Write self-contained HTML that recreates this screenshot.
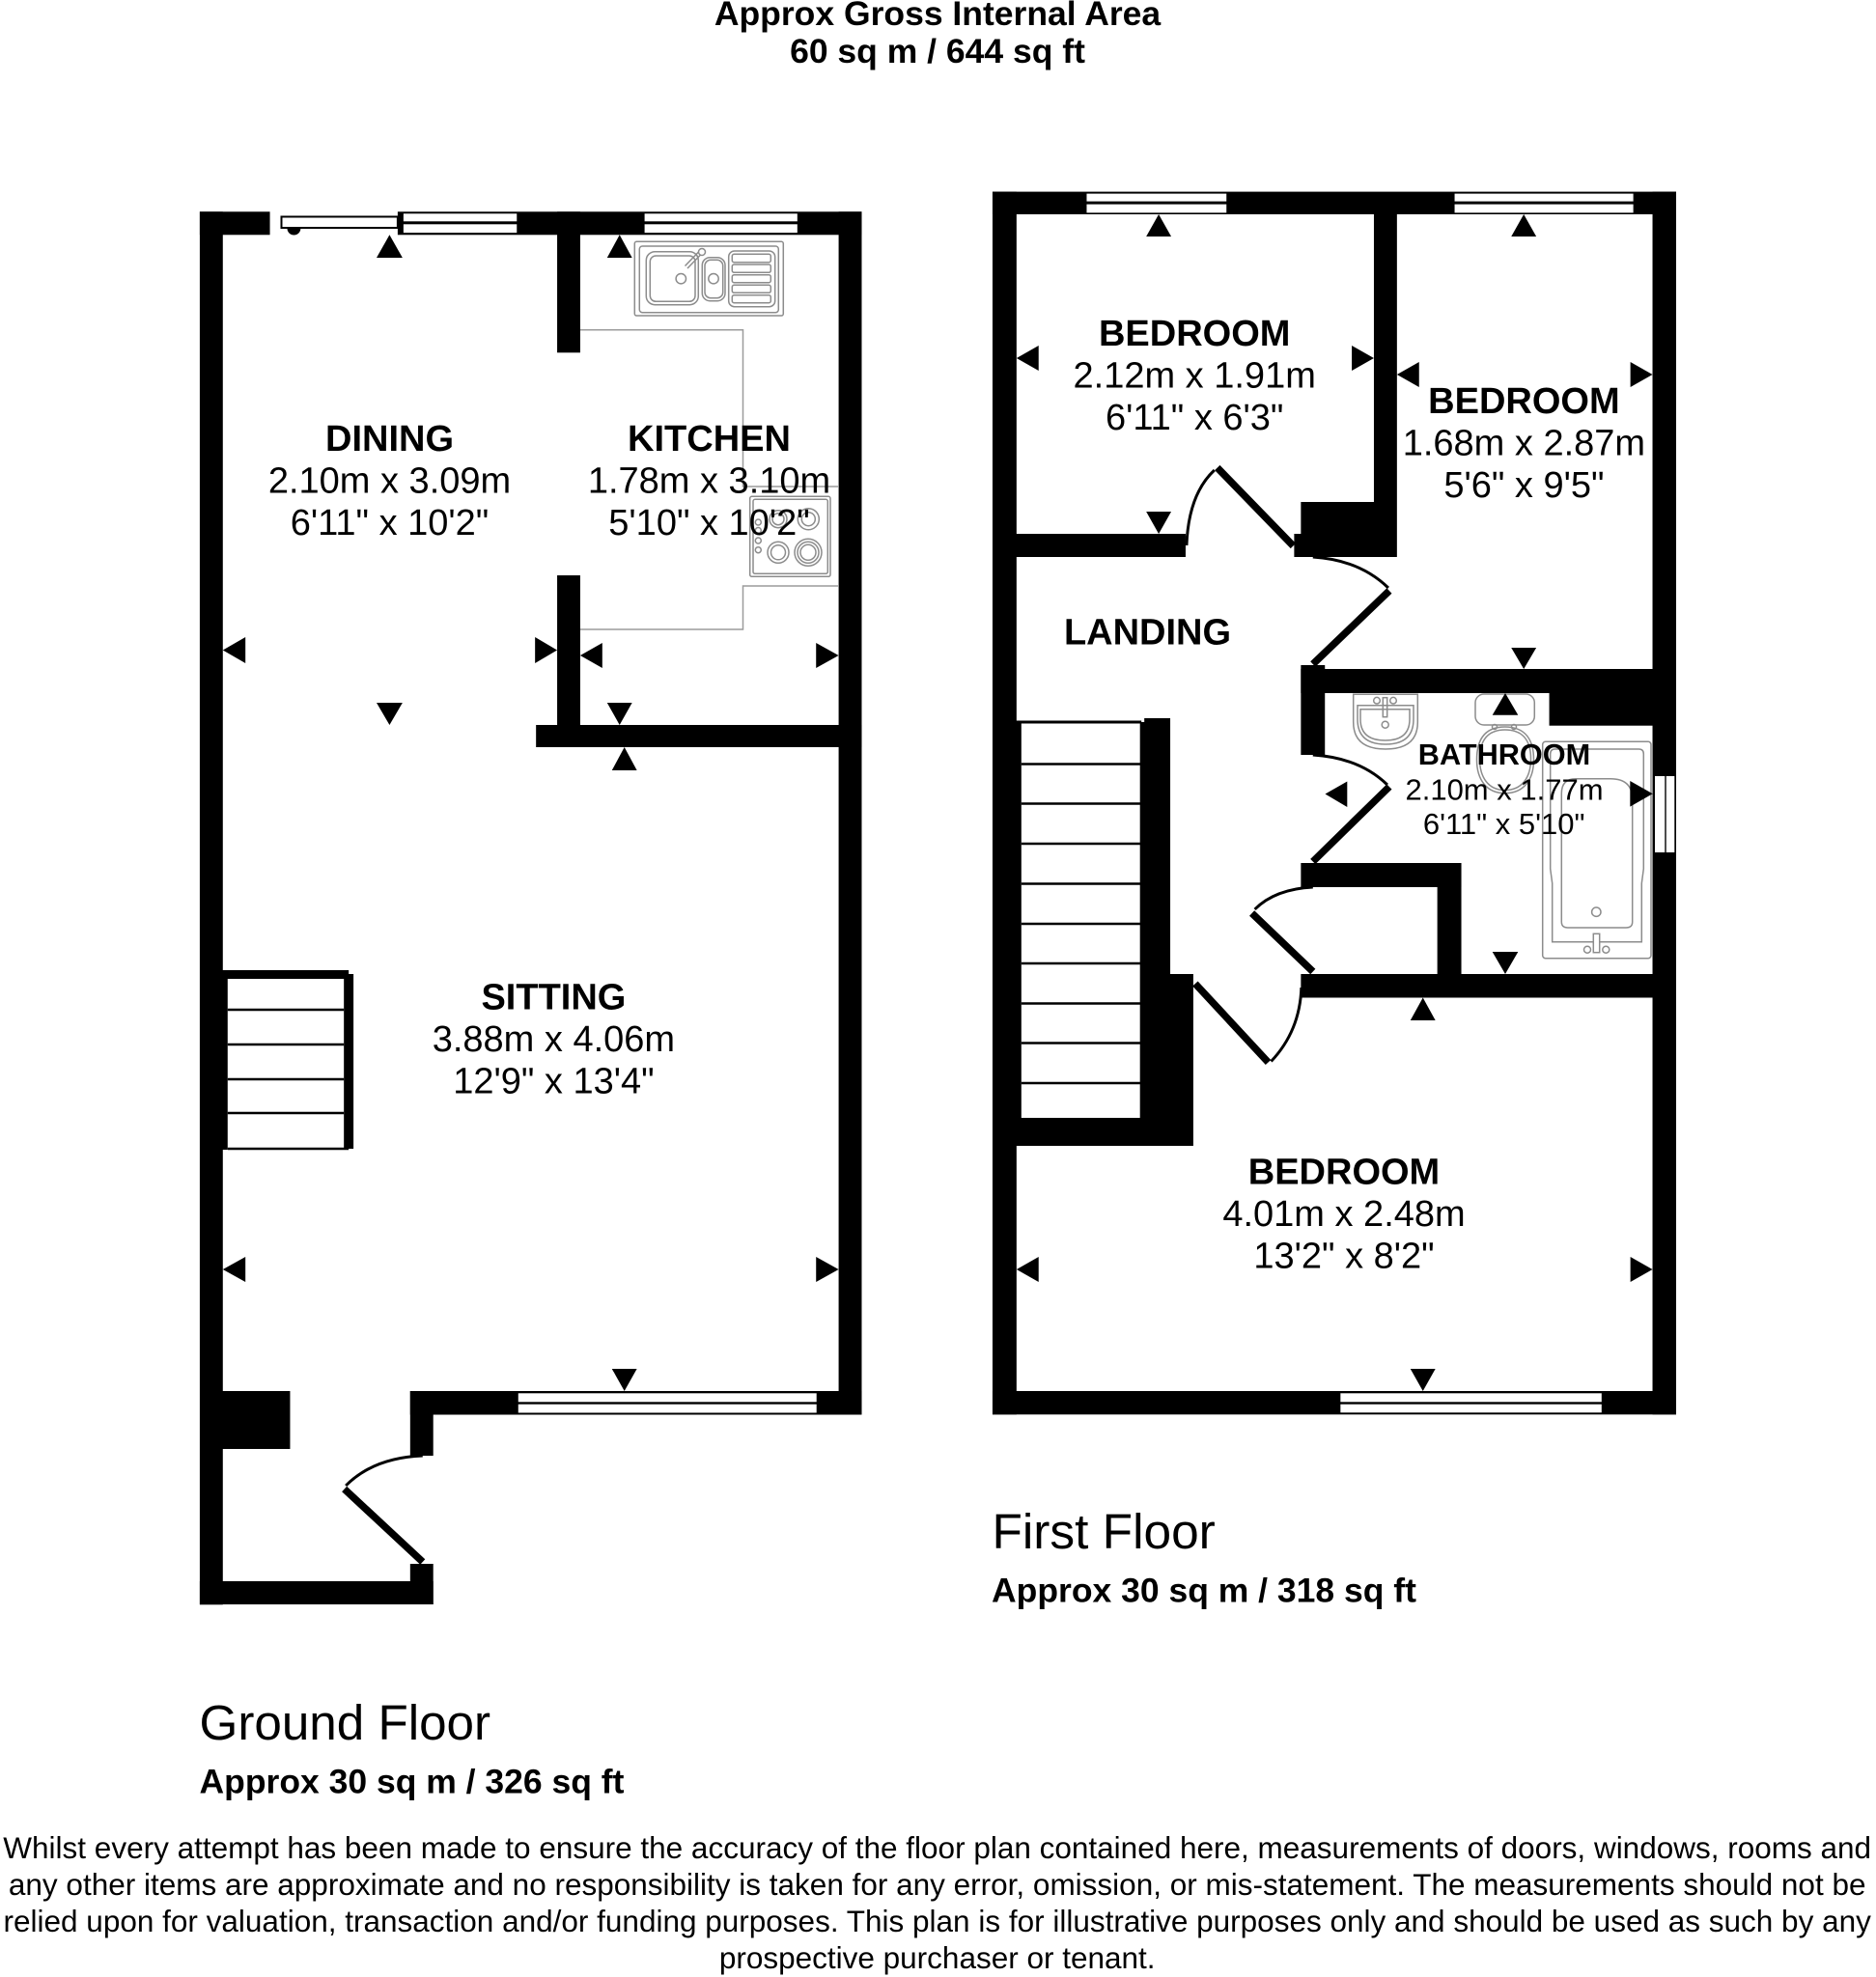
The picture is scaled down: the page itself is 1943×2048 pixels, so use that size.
<!DOCTYPE html>
<html><head><meta charset="utf-8"><style>
html,body{margin:0;padding:0;background:#fff}
svg{display:block}
text{font-family:"Liberation Sans",sans-serif;fill:#000}
.b{font-weight:bold;font-size:38px;text-anchor:middle}
.r{font-size:38px;text-anchor:middle}
.bs{font-weight:bold;font-size:30.7px;text-anchor:middle}
.rs{font-size:31px;text-anchor:middle}
.d{font-size:31.5px;text-anchor:middle}
.h{font-weight:bold;font-size:35.5px}
.g{fill:none;stroke:#8c8c8c;stroke-width:1.5}
.l{fill:none;stroke:#9c9c9c;stroke-width:1.5}
.dr{stroke:#000;stroke-width:7.5;fill:none}
.ar{stroke:#000;stroke-width:3;fill:none}
.s{stroke:#000;stroke-width:2.4}
</style></head><body>
<svg width="1943" height="2048" viewBox="0 0 1943 2048" xmlns="http://www.w3.org/2000/svg">
<rect width="1943" height="2048" fill="#fff"/>

<!-- GROUND FLOOR -->
<g transform="translate(190 0) scale(.995 1) translate(-190 0)">
<g fill="#000">
<rect x="207" y="219.3" width="73" height="24"/>
<rect x="207" y="219.3" width="24" height="1443"/>
<rect x="413" y="219.3" width="483" height="24"/>
<rect x="872" y="219.3" width="24" height="1246"/>
<rect x="579" y="219.3" width="24" height="146"/>
<rect x="579" y="596" width="24" height="165"/>
<rect x="557" y="751" width="339" height="23"/>
<rect x="426" y="1441" width="470" height="24.5"/>
<rect x="220" y="1441" width="81" height="60"/>
<rect x="426" y="1441" width="24" height="67"/>
<rect x="426" y="1620" width="24" height="42"/>
<rect x="207" y="1638" width="243" height="24"/>
<rect x="220" y="1005" width="142" height="9"/>
<rect x="220" y="1005" width="16" height="186"/>
<rect x="357" y="1009" width="10" height="181"/>
</g>
<g class="s">
<line x1="236" y1="1046" x2="357" y2="1046"/>
<line x1="236" y1="1082" x2="357" y2="1082"/>
<line x1="236" y1="1118" x2="357" y2="1118"/>
<line x1="236" y1="1153" x2="357" y2="1153"/>
<line x1="236" y1="1190" x2="362" y2="1190"/>
</g>
<g fill="#fff">
<rect x="419" y="221.3" width="118" height="8"/><rect x="419" y="232.3" width="118" height="8.8"/>
<rect x="670" y="221.3" width="159" height="8"/><rect x="670" y="232.3" width="159" height="8.8"/>
<rect x="538.5" y="1443.3" width="310.5" height="9"/><rect x="538.5" y="1454.7" width="310.5" height="8.8"/>
</g>
<rect x="292" y="224.5" width="121" height="11.5" fill="#fff" stroke="#000" stroke-width="2"/>
<path d="M298 236.5a7 7 0 0 0 14 0z" fill="#000"/>
<line x1="439" y1="1618" x2="357.5" y2="1542.5" class="dr"/>
<path d="M359 1539Q388 1510 439 1508" class="ar"/>
<g fill="#000">
<polygon points="404.5,243.3 391,267 418,267"/>
<polygon points="644,243.3 631,267 657,267"/>
<polygon points="231,673.5 254.5,660 254.5,687"/>
<polygon points="579,673.5 556,660 556,687"/>
<polygon points="603,679 626,666 626,692"/>
<polygon points="872,679 848.5,666 848.5,692"/>
<polygon points="404.5,751 391,728 418,728"/>
<polygon points="644,751 631,728 657,728"/>
<polygon points="649,774 636,798 662,798"/>
<polygon points="231,1315 254.5,1302 254.5,1328"/>
<polygon points="872,1315 848.5,1302 848.5,1328"/>
<polygon points="649,1441 636,1418 662,1418"/>
</g>
</g>

<!-- kitchen worktop -->
<path class="l" d="M601 341.7H769.5V504H868M868 607H769.5V652H601"/>
<!-- sink -->
<g class="g">
<rect x="657.3" y="250.3" width="154" height="76.7" rx="2"/>
<rect x="662.3" y="255" width="144" height="68.7" rx="3"/>
<rect x="669.3" y="260.7" width="54" height="55" rx="9"/>
<rect x="673.3" y="265" width="46.7" height="47.3" rx="6"/>
<rect x="727.3" y="266.7" width="23.7" height="45" rx="8"/>
<rect x="730" y="269.3" width="18.7" height="39.4" rx="6"/>
<rect x="754.7" y="260" width="48" height="57.7" rx="6"/>
<rect x="758.3" y="263.3" width="40" height="8.4" rx="2"/>
<rect x="758.3" y="274" width="40" height="8.3" rx="2"/>
<rect x="758.3" y="284.7" width="40" height="8" rx="2"/>
<rect x="758.3" y="295.3" width="40" height="8" rx="2"/>
<rect x="758.3" y="305.7" width="40" height="8" rx="2"/>
<circle cx="705.3" cy="288.7" r="5.2"/>
<circle cx="739" cy="288.7" r="5.2"/>
<path d="M709.5 275.5L724 260.5M712 278L726.5 263"/>
<circle cx="727" cy="261" r="3.5" fill="#fff"/>
</g>
<!-- hob -->
<g class="g">
<rect x="776.7" y="514.3" width="83.3" height="83" rx="2"/>
<rect x="780" y="517.3" width="77.3" height="77" rx="2"/>
<circle cx="806" cy="572.3" r="11"/><circle cx="806" cy="572.3" r="7.5"/>
<circle cx="837" cy="572.3" r="14"/><circle cx="837" cy="572.3" r="11"/><circle cx="837" cy="572.3" r="8"/>
<circle cx="806" cy="537.7" r="9"/><circle cx="806" cy="537.7" r="6"/>
<circle cx="837.3" cy="537.7" r="11"/><circle cx="837.3" cy="537.7" r="7"/>
<circle cx="785.3" cy="541" r="3"/><circle cx="785.3" cy="549.5" r="3"/><circle cx="785.3" cy="560" r="3"/><circle cx="785.3" cy="569.7" r="3"/>
</g>

<!-- FIRST FLOOR -->
<g transform="translate(1020 0) scale(.995 1) translate(-1020 0)">
<g fill="#000">
<rect x="1028" y="198.6" width="711.6" height="23.4"/>
<rect x="1028" y="198.6" width="25" height="1266.7"/>
<rect x="1715" y="198.6" width="24.6" height="1266.7"/>
<rect x="1028" y="1441" width="711.6" height="24.3"/>
<rect x="1040" y="553" width="189" height="24"/>
<polygon points="1342,553 1349,553 1349,520 1425,520 1425,215 1449,215 1449,577 1342,577"/>
<rect x="1349" y="693" width="390" height="25"/>
<rect x="1349" y="689" width="25" height="93"/>
<rect x="1607.5" y="700" width="130" height="51.7"/>
<rect x="1349" y="894" width="167" height="25"/>
<rect x="1491" y="894" width="25" height="120"/>
<rect x="1349" y="1009" width="390" height="24.5"/>
<polygon points="1186,744 1213,744 1213,1009 1237,1009 1237,1187 1040,1187 1040,1158 1181.5,1158 1181.5,748 1186,748"/>
<rect x="1040" y="748" width="18" height="410"/>
<rect x="1040" y="746.5" width="143" height="3"/>
</g>
<g class="s">
<line x1="1058" y1="791.5" x2="1182" y2="791.5"/>
<line x1="1058" y1="832.5" x2="1182" y2="832.5"/>
<line x1="1058" y1="874" x2="1182" y2="874"/>
<line x1="1058" y1="915.5" x2="1182" y2="915.5"/>
<line x1="1058" y1="957" x2="1182" y2="957"/>
<line x1="1058" y1="998" x2="1182" y2="998"/>
<line x1="1058" y1="1039.5" x2="1182" y2="1039.5"/>
<line x1="1058" y1="1080.5" x2="1182" y2="1080.5"/>
<line x1="1058" y1="1122" x2="1182" y2="1122"/>
</g>
<g fill="#fff">
<rect x="1126" y="200.6" width="145.5" height="8"/><rect x="1126" y="211.6" width="145.5" height="8.8"/>
<rect x="1509" y="200.6" width="186" height="8"/><rect x="1509" y="211.6" width="186" height="8.8"/>
<rect x="1390.2" y="1443.3" width="271.8" height="9"/><rect x="1390.2" y="1454.7" width="271.8" height="8.6"/>
</g>
<line x1="1341" y1="565.5" x2="1262" y2="484.5" class="dr"/>
<path d="M1230 565Q1232 512 1259 487" class="ar"/>
<line x1="1361.5" y1="688" x2="1441" y2="612" class="dr"/>
<path d="M1361.5 577Q1410 580 1440 609" class="ar"/>
<line x1="1361.5" y1="892.5" x2="1441" y2="815" class="dr"/>
<path d="M1361.5 782Q1410 785 1439 813" class="ar"/>
<line x1="1361.5" y1="1006.5" x2="1298" y2="946" class="dr"/>
<path d="M1361.5 919Q1322 921 1301 942" class="ar"/>
<line x1="1239" y1="1019" x2="1315" y2="1100.5" class="dr"/>
<path d="M1349.5 1023Q1348 1068 1318 1099.5" class="ar"/>
<g fill="#000">
<polygon points="1201,222 1188,245 1214,245"/>
<polygon points="1201,553 1188,530 1214,530"/>
<polygon points="1053,371 1076,358 1076,384"/>
<polygon points="1425,371 1402,358 1402,384"/>
<polygon points="1581,222 1568,245 1594,245"/>
<polygon points="1581,693 1568,671 1594,671"/>
<polygon points="1449,388 1472,375 1472,401"/>
<polygon points="1715,388 1692,375 1692,401"/>
<polygon points="1476,1033.5 1463,1057 1489,1057"/>
<polygon points="1053,1315 1076,1302 1076,1328"/>
<polygon points="1715,1315 1692,1302 1692,1328"/>
<polygon points="1476,1441 1463,1418 1489,1418"/>
</g>
</g>

<!-- side window -->
<rect x="1714" y="804" width="10.3" height="79" fill="#fff"/>
<rect x="1725.7" y="804" width="8.6" height="79" fill="#fff"/>

<!-- bathroom fixtures -->
<g class="g">
<path d="M1401.7 719.3H1468.3V748Q1468.3 776 1435 776Q1401.7 776 1401.7 748Z"/>
<path d="M1406 730.7H1464V745Q1464 771 1435 771Q1406 771 1406 745Z"/>
<path d="M1409 734.7H1460V745Q1460 767 1434.7 767Q1409 767 1409 745Z"/>
<rect x="1432.3" y="722.7" width="4.4" height="20"/>
<circle cx="1426" cy="725.7" r="3.3"/><circle cx="1443" cy="725.7" r="3.3"/>
<circle cx="1434.7" cy="750.7" r="3.5"/>
<rect x="1528" y="719" width="61.3" height="32" rx="9"/>
<circle cx="1548" cy="753" r="2.5"/><circle cx="1568" cy="753" r="2.5"/>
<path d="M1529.5 787C1529.5 766 1538 753 1558.7 753C1579.5 753 1588.5 766 1588.5 787C1588.5 808 1578 821.7 1558.7 821.7C1540 821.7 1529.5 808 1529.5 787Z"/>
<path d="M1532.5 786C1532.5 767 1541 756 1558.7 756C1577 756 1585.5 767 1585.5 786C1585.5 806 1576 818.5 1558.7 818.5C1542 818.5 1532.5 806 1532.5 786Z"/>
<rect x="1597.7" y="768.3" width="112.3" height="224.4" rx="3"/>
<path d="M1605.7 781Q1605.7 776 1610.7 776H1697.3Q1702.3 776 1702.3 781V900L1700.3 915V975.7H1607.7V915L1605.7 900Z"/>
<path d="M1617.3 822Q1617.3 806.7 1632 806.7H1668Q1690.7 806.7 1690.7 828V955Q1690.7 961 1684 961H1624Q1617.3 961 1617.3 955Z"/>
<circle cx="1653.3" cy="944.7" r="4.7"/>
<rect x="1650.3" y="967.3" width="6.4" height="19.4" fill="#fff"/>
<circle cx="1644" cy="983.7" r="3.5"/><circle cx="1663.3" cy="983.7" r="3.5"/>
</g>
<!-- bathroom arrows (over fixtures) -->
<g fill="#000">
<polygon points="1559,718 1545.7,740.7 1572.3,740.7"/>
<polygon points="1559,1009 1545.7,986 1572.3,986"/>
<polygon points="1372.5,822.5 1395.3,809.5 1395.3,836"/>
<polygon points="1711.7,822.3 1688.3,809 1688.3,835.6"/>
</g>

<!-- room text -->
<text class="b" x="403.5" y="467">DINING</text>
<text class="r" x="403.5" y="510.5">2.10m x 3.09m</text>
<text class="r" x="403.5" y="554">6'11" x 10'2"</text>
<text class="b" x="734.5" y="467">KITCHEN</text>
<text class="r" x="734.5" y="510.5">1.78m x 3.10m</text>
<text class="r" x="734.5" y="554">5'10" x 10'2"</text>
<text class="b" x="573.4" y="1045.5">SITTING</text>
<text class="r" x="573.4" y="1089">3.88m x 4.06m</text>
<text class="r" x="573.4" y="1132.5">12'9" x 13'4"</text>
<text class="b" x="1237.2" y="358">BEDROOM</text>
<text class="r" x="1237.2" y="401.5">2.12m x 1.91m</text>
<text class="r" x="1237.2" y="445">6'11" x 6'3"</text>
<text class="b" x="1578.4" y="428">BEDROOM</text>
<text class="r" x="1578.4" y="471.5">1.68m x 2.87m</text>
<text class="r" x="1578.4" y="515">5'6" x 9'5"</text>
<text class="b" x="1188.5" y="667.5">LANDING</text>
<text class="bs" x="1558" y="792">BATHROOM</text>
<text class="rs" x="1558" y="828.5">2.10m x 1.77m</text>
<text class="rs" x="1557.7" y="864">6'11" x 5'10"</text>
<text class="b" x="1392" y="1226.5">BEDROOM</text>
<text class="r" x="1392" y="1270">4.01m x 2.48m</text>
<text class="r" x="1392" y="1313.5">13'2" x 8'2"</text>

<!-- headings -->
<text class="h" x="971" y="26" text-anchor="middle">Approx Gross Internal Area</text>
<text class="h" x="971" y="65" text-anchor="middle">60 sq m / 644 sq ft</text>
<text x="1027.5" y="1604" font-size="51.4">First Floor</text>
<text class="h" x="1027" y="1659.5">Approx 30 sq m / 318 sq ft</text>
<text x="206.5" y="1802" font-size="51.2">Ground Floor</text>
<text class="h" x="206.5" y="1857.5">Approx 30 sq m / 326 sq ft</text>

<!-- disclaimer -->
<text class="d" x="970.7" y="1925">Whilst every attempt has been made to ensure the accuracy of the floor plan contained here, measurements of doors, windows, rooms and</text>
<text class="d" x="970.7" y="1963">any other items are approximate and no responsibility is taken for any error, omission, or mis-statement. The measurements should not be</text>
<text class="d" x="970.7" y="2001">relied upon for valuation, transaction and/or funding purposes. This plan is for illustrative purposes only and should be used as such by any</text>
<text class="d" x="970.7" y="2039">prospective purchaser or tenant.</text>
</svg>
</body></html>
